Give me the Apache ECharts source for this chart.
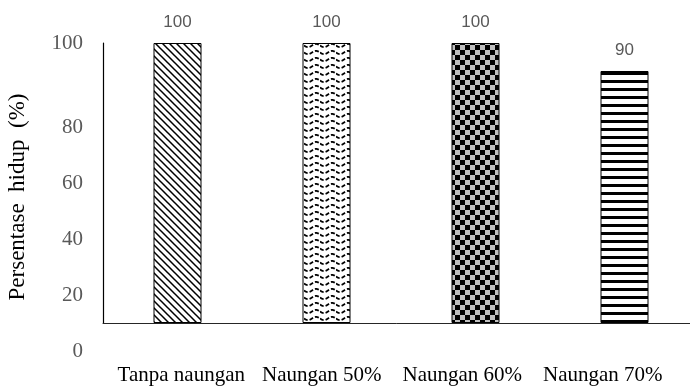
<!DOCTYPE html>
<html>
<head>
<meta charset="utf-8">
<script src="https://cdn.jsdelivr.net/npm/echarts@6/dist/echarts.min.js"></script>
<style>
html,body{margin:0;padding:0;background:#fff;}
#chart{width:690px;height:388px;}
</style>
</head>
<body>
<div id="chart"></div>
<script>
// ---- data ----
var categories = ['Tanpa naungan', 'Naungan 50%', 'Naungan 60%', 'Naungan 70%'];
var survival = [100, 100, 100, 90];
var yTickLabels = ['0', '20', '40', '60', '80', '100'];
var yAxisTitle = 'Persentase  hidup  (%)';

// ---- patterns (style only) ----
function makeTile(w, h, draw) {
  var c = document.createElement('canvas');
  c.width = w; c.height = h;
  var g = c.getContext('2d');
  g.fillStyle = '#fff'; g.fillRect(0, 0, w, h);
  draw(g, w, h);
  return c;
}
var tileDiag = makeTile(7, 7, function (g, w, h) {
  g.strokeStyle = '#000'; g.lineWidth = 1.5;
  g.beginPath();
  g.moveTo(-2, -2); g.lineTo(w + 2, h + 2);
  g.moveTo(-2 - w, -2); g.lineTo(2, h + 2);
  g.moveTo(w - 2, -2); g.lineTo(2 * w + 2, h + 2);
  g.stroke();
});
var tileWave = makeTile(16, 7, function (g, w, h) {
  g.strokeStyle = '#000'; g.lineWidth = 1.8;
  g.setLineDash([4, 2]);
  g.beginPath();
  for (var x = 0; x <= w; x += 0.5) {
    var y = 3.5 + 1.6 * Math.sin(2 * Math.PI * x / w);
    if (x === 0) g.moveTo(x, y); else g.lineTo(x, y);
  }
  g.stroke();
});
var tileCheck = makeTile(10, 10, function (g, w, h) {
  g.fillStyle = '#bfbfbf'; g.fillRect(0, 0, w, h);
  g.fillStyle = '#000';
  g.fillRect(0, 0, 5, 5); g.fillRect(5, 5, 5, 5);
});
var tileHoriz = makeTile(8, 8, function (g, w, h) {
  g.fillStyle = '#000'; g.fillRect(0, 0, w, 3);
});
var patterns = [tileDiag, tileWave, tileCheck, tileHoriz];

// ---- layout helper: where the y tick labels sit on the label axis ----
var yLabelAnchors = [-10, 10, 30, 50, 70, 100];

var serif = '"Liberation Serif", "Times New Roman", serif';
var chart = echarts.init(document.getElementById('chart'), null, {renderer: 'canvas'});
chart.setOption({
  animation: false,
  backgroundColor: '#fff',
  grid: [
    {left: 103, top: 43, bottom: 65, width: 596, outerBoundsMode: 'none', containLabel: false},
    {left: 103, top: 43, bottom: 37, width: 596, outerBoundsMode: 'none', containLabel: false},
    {left: 111, top: 43, bottom: 65, width: 562, outerBoundsMode: 'none', containLabel: false}
  ],
  xAxis: [
    {
      type: 'category', gridIndex: 0, data: categories,
      axisLine: {show: true, lineStyle: {color: '#262626', width: 1}},
      axisTick: {show: false},
      axisLabel: {show: false}
    },
    {type: 'value', gridIndex: 1, show: false},
    {
      type: 'category', gridIndex: 2, data: categories,
      axisLine: {show: false}, axisTick: {show: false},
      axisLabel: {margin: 42, color: '#000', fontFamily: serif, fontSize: 21, interval: 0}
    }
  ],
  yAxis: [
    {
      type: 'value', gridIndex: 0, min: 0, max: 100,
      axisLine: {show: true, lineStyle: {color: '#000', width: 1.2}},
      axisTick: {show: false}, axisLabel: {show: false}, splitLine: {show: false}
    },
    {
      type: 'value', gridIndex: 1, min: -10, max: 100,
      axisLine: {show: false}, axisTick: {show: false}, splitLine: {show: false},
      axisLabel: {
        show: true, margin: 20, color: '#595959', fontFamily: serif, fontSize: 21,
        customValues: yLabelAnchors,
        formatter: function (v) {
          var i = yLabelAnchors.indexOf(v);
          return i >= 0 ? yTickLabels[i] : '';
        }
      },
      name: yAxisTitle, nameLocation: 'middle', nameGap: 74,
      nameTextStyle: {color: '#000', fontFamily: serif, fontSize: 23}
    },
    {type: 'value', gridIndex: 2, show: false, min: 0, max: 100}
  ],
  series: [{
    type: 'bar', xAxisIndex: 0, yAxisIndex: 0, barWidth: 48,
    data: survival.map(function (v, i) {
      return {value: v, itemStyle: {color: {image: patterns[i], repeat: 'repeat'}, borderColor: '#000', borderWidth: 1}};
    }),
    label: {
      show: true, position: 'top', distance: 12,
      color: '#595959', fontFamily: '"Liberation Sans", Arial, sans-serif', fontSize: 17
    }
  }]
});
</script>
</body>
</html>
